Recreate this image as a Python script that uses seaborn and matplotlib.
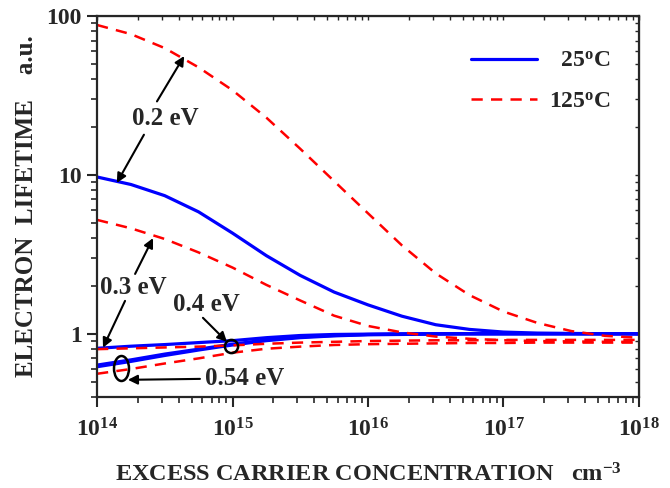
import numpy as np
import pandas as pd
import matplotlib
matplotlib.use('Agg')
import matplotlib.pyplot as plt
import seaborn as sns
from matplotlib.lines import Line2D
from matplotlib.path import Path
from matplotlib.transforms import Affine2D

# excess carrier concentration (cm^-3), quarter-decade steps
conc = [1e14, 1.78e14, 3.16e14, 5.62e14, 1e15, 1.78e15, 3.16e15, 5.62e15,
        1e16, 1.78e16, 3.16e16, 5.62e16, 1e17, 1.78e17, 3.16e17, 5.62e17, 1e18]

# electron lifetime (a.u.) at 25 C
tau25_02 = [9.7, 8.7, 7.4, 5.85, 4.3, 3.1, 2.33, 1.83, 1.52, 1.29, 1.14, 1.065, 1.025, 1.01, 1.005, 1.0, 1.0]
tau25_03 = [0.81, 0.835, 0.855, 0.88, 0.905, 0.945, 0.975, 0.99, 0.995, 1.0, 1.0, 1.0, 1.0, 1.0, 1.0, 1.0, 1.0]
tau25_04 = [0.635, 0.685, 0.745, 0.80, 0.86, 0.915, 0.955, 0.975, 0.99, 0.995, 1.0, 1.0, 1.0, 1.0, 1.0, 1.0, 1.0]
tau25_054 = [0.62, 0.67, 0.73, 0.79, 0.85, 0.905, 0.945, 0.97, 0.985, 0.99, 0.995, 1.0, 1.0, 1.0, 1.0, 1.0, 1.0]

# electron lifetime (a.u.) at 125 C
tau125_02 = [87.8, 76.9, 62.8, 47.5, 34.1, 22.9, 14.6, 9.14, 5.73, 3.6, 2.4, 1.75, 1.38, 1.17, 1.04, 0.97, 0.944]
tau125_03 = [5.21, 4.61, 3.95, 3.25, 2.61, 2.03, 1.62, 1.30, 1.12, 1.02, 0.96, 0.93, 0.91, 0.90, 0.895, 0.89, 0.89]
tau125_04 = [0.80, 0.81, 0.82, 0.83, 0.845, 0.865, 0.88, 0.89, 0.90, 0.905, 0.91, 0.91, 0.915, 0.915, 0.915, 0.915, 0.915]
tau125_054 = [0.56, 0.60, 0.65, 0.70, 0.76, 0.805, 0.83, 0.85, 0.86, 0.865, 0.87, 0.875, 0.875, 0.88, 0.88, 0.88, 0.88]

xticks = [1e14, 1e15, 1e16, 1e17, 1e18]
xticklabels = ['$10^{14}$', '$10^{15}$', '$10^{16}$', '$10^{17}$', '$10^{18}$']
yticks = [1, 10, 100]
yticklabels = ['1', '10', '100']

rows = []
for temp, curves in [('25', [tau25_02, tau25_03, tau25_04, tau25_054]),
                     ('125', [tau125_02, tau125_03, tau125_04, tau125_054])]:
    for energy, tau in zip(['0.2', '0.3', '0.4', '0.54'], curves):
        for c, t in zip(conc, tau):
            rows.append({'temp': temp, 'energy': energy, 'conc': c, 'tau': t})
df = pd.DataFrame(rows)

sns.set_style('ticks')
plt.rcParams['font.family'] = ['Liberation Serif', 'DejaVu Serif']
plt.rcParams['font.weight'] = 'bold'
plt.rcParams['mathtext.fontset'] = 'custom'
plt.rcParams['mathtext.rm'] = 'Liberation Serif:bold'
plt.rcParams['mathtext.it'] = 'Liberation Serif:italic:bold'
plt.rcParams['mathtext.bf'] = 'Liberation Serif:bold'
plt.rcParams['mathtext.default'] = 'rm'

fig = plt.figure(figsize=(6.7, 4.88), dpi=100)
ax = fig.add_axes([0.1448, 0.1865, 0.8089, 0.7807])
ax.set_xscale('log')
ax.set_yscale('log')

sns.lineplot(data=df[df.temp == '25'], x='conc', y='tau', units='energy',
             estimator=None, color='blue', lw=2.3, legend=False, ax=ax)
sns.lineplot(data=df[df.temp == '125'], x='conc', y='tau', units='energy',
             estimator=None, color='red', lw=1.8, linestyle=(0, (4.5, 3.3)),
             legend=False, ax=ax)

ax.set_xlim(1e14, 1e18)
ax.set_ylim(0.4, 100)
ax.set_xticks(xticks)
ax.set_xticklabels(xticklabels)
ax.set_yticks(yticks)
ax.set_yticklabels(yticklabels)
ax.yaxis.set_minor_formatter(matplotlib.ticker.NullFormatter())
ax.xaxis.set_minor_formatter(matplotlib.ticker.NullFormatter())

ax.tick_params(axis='both', which='major', direction='out', length=7, width=1.5,
               labelsize=17, pad=4)
ax.tick_params(axis='both', which='minor', direction='out', length=4, width=1.2)
ax.tick_params(axis='x', which='major', pad=8)
for s in ax.spines.values():
    s.set_linewidth(1.6)

# small inward ticks on top and right
ax2 = ax.secondary_xaxis('top')
ax2.set_xticks(xticks)
ax2.tick_params(which='both', direction='in', length=3, width=1, labeltop=False)
ax2.xaxis.set_minor_formatter(matplotlib.ticker.NullFormatter())
ax2.set_xticklabels([])
ax3 = ax.secondary_yaxis('right')
ax3.set_yticks(yticks)
ax3.tick_params(which='both', direction='in', length=3, width=1, labelright=False)
ax3.yaxis.set_minor_formatter(matplotlib.ticker.NullFormatter())
ax3.set_yticklabels([])

ax.set_xlabel('EXCESS CARRIER CONCENTRATION   cm$^{-3}$', fontsize=17.5,
              fontweight='bold', labelpad=16)
ax.set_ylabel('ELECTRON  LIFETIME    a.u.', fontsize=18, fontweight='bold',
              labelpad=6)

# legend
handles = [Line2D([], [], color='blue', lw=2.3, label='\u200725$^{o}$C'),
           Line2D([], [], color='red', lw=1.8, linestyle=(0, (4.5, 3.3)),
                  label='125$^{o}$C')]
ax.legend(handles=handles, loc='upper right', bbox_to_anchor=(0.948, 0.91),
          frameon=False, fontsize=17, handlelength=2.8, handletextpad=0.5,
          labelspacing=0.8, borderaxespad=0, borderpad=0)

arrow = dict(arrowstyle='-|>', color='black', lw=1.5, mutation_scale=14,
             shrinkA=0, shrinkB=0)
lab = dict(fontsize=18, fontweight='bold', ha='center', va='center')

ax.text(3.2e14, 22.8, '0.2 eV', **lab)
ax.annotate('', xy=(4.4e14, 56), xytext=(2.77e14, 29), arrowprops=arrow)
ax.annotate('', xy=(1.4e14, 8.9), xytext=(2.22e14, 17.9), arrowprops=arrow)

ax.text(1.84e14, 1.95, '0.3 eV', **lab)
ax.annotate('', xy=(2.59e14, 4.0), xytext=(1.91e14, 2.38), arrowprops=arrow)
ax.annotate('', xy=(1.107e14, 0.817), xytext=(1.61e14, 1.61), arrowprops=arrow)

ax.text(6.37e14, 1.52, '0.4 eV', **lab)
ax.annotate('', xy=(9.1e14, 0.89), xytext=(6.05e14, 1.26), arrowprops=arrow)
ax.plot([9.8e14], [0.84], marker='o', ms=9.5, mfc='none', mec='black', mew=1.8)

ax.text(1.23e15, 0.52, '0.54 eV', **lab)
ax.annotate('', xy=(1.69e14, 0.513), xytext=(5.75e14, 0.52), arrowprops=arrow)
circle = Path.unit_circle()
ellipse = Path(Affine2D().scale(0.6, 1.0).transform(circle.vertices), circle.codes)
ax.plot([1.5e14], [0.611], marker=ellipse, ms=18, mfc='none', mec='black', mew=1.8)

fig.savefig('out.png', dpi=100)
